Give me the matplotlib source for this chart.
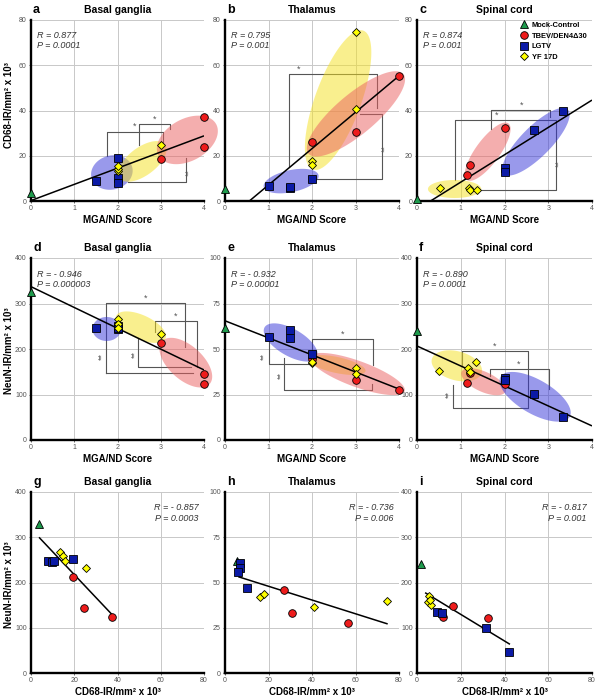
import numpy as np
import matplotlib.pyplot as plt
from matplotlib.patches import Polygon
from matplotlib.lines import Line2D

plt.rcParams['font.family'] = ['Liberation Sans', 'DejaVu Sans']

# ---------------- data ----------------
# each group: (x values, y values)
# row 1: CD68 vs MGA/ND score
a_mock = ([0], [3.5])
a_tbev = ([3, 4, 4], [18.7, 37, 24])
a_lgtv = ([1.5, 2, 2, 2], [8.8, 19.2, 10.3, 7.8])
a_yf = ([2, 2, 2, 3], [13.3, 14.3, 15.5, 24.6])
a_fit = ([0, 4], [0.2, 28.8])

b_mock = ([0], [5.3])
b_tbev = ([2, 3, 4], [26.2, 30.6, 55.4])
b_lgtv = ([1, 1.5, 1.5, 2], [6.5, 5.8, 6.2, 9.6])
b_yf = ([2, 2, 3, 3], [17.7, 15.9, 40.5, 74.6])
b_fit = ([0.56, 4], [0, 55.3])

c_mock = ([0], [1])
c_tbev = ([1.15, 1.2, 2], [11.5, 15.9, 32.3])
c_lgtv = ([2, 2, 2.68, 3.34], [14.7, 12.7, 31.4, 39.8])
c_yf = ([0.53, 1.19, 1.2, 1.36], [5.6, 5.9, 4.7, 5.0])
c_fit = ([0.31, 4], [0, 44.6])

# row 2: NeuN vs MGA/ND score
d_mock = ([0], [326])
d_tbev = ([3, 4, 4], [212.5, 144, 123])
d_lgtv = ([1.5, 2, 2, 2], [245.5, 250, 244, 247])
d_yf = ([2, 2, 2, 3], [265, 255, 245.5, 232])
d_fit = ([0, 4], [337, 154])

e_mock = ([0], [61.4])
e_tbev = ([2, 3, 4], [44.5, 33, 27.5])
e_lgtv = ([1, 1.5, 1.5, 2], [56.8, 60.4, 55.9, 47])
e_yf = ([2, 2, 3, 3], [42.1, 43, 39.7, 36.3])
e_fit = ([0, 4], [65.5, 28])

f_mock = ([0], [240])
f_tbev = ([1.15, 1.2, 2], [124.6, 148, 122])
f_lgtv = ([2, 2, 2.67, 3.33], [135.5, 131, 100.4, 50])
f_yf = ([0.51, 1.17, 1.2, 1.34], [151.6, 159, 150, 172])
f_fit = ([0, 4], [206.6, 31])

# row 3: NeuN vs CD68
g_mock = ([3.7], [329])
g_tbev = ([19.3, 24.4, 37.6], [212.8, 144.3, 123])
g_lgtv = ([8.0, 9.6, 10.8, 19.6], [247.5, 244.6, 247.5, 251])
g_yf = ([13.4, 14.6, 15.7, 25.3], [266.7, 257.9, 247.5, 231.4])
g_fit = ([3.7, 37.6], [299.9, 128.5])

h_mock = ([5.7], [61.9])
h_tbev = ([27.1, 30.9, 56.7], [45.7, 33.3, 27.8])
h_lgtv = ([6.9, 6.9, 6.1, 10], [60.6, 57.8, 56, 47.1])
h_yf = ([16.1, 17.9, 40.8, 74.3], [42.2, 43.5, 36.3, 39.9])
h_fit = ([6.1, 74.8], [53.2, 27.1])

i_mock = ([1.8], [240.9])
i_tbev = ([12.0, 16.6, 32.6], [124.5, 148.8, 122.2])
i_lgtv = ([9.0, 11.3, 31.4, 42.2], [135.6, 132, 100, 47])
i_yf = ([5.6, 5.0, 6.5, 5.9], [171, 158, 150, 162])
i_fit = ([3.7, 42.5], [177.5, 63.4])

letters = ['a', 'b', 'c', 'd', 'e', 'f', 'g', 'h', 'i']
titles = ['Basal ganglia', 'Thalamus', 'Spinal cord'] * 3
r_vals = ['0.877', '0.795', '0.874', '- 0.946', '- 0.932', '- 0.890',
          '- 0.857', '- 0.736', '- 0.817']
p_vals = ['0.0001', '0.001', '0.001', '0.000003', '0.00001', '0.0001',
          '0.0003', '0.006', '0.001']
group_names = ['Mock-Control', 'TBEV/DEN4\u039430', 'LGTV', 'YF 17D']

panels = [
    (a_mock, a_tbev, a_lgtv, a_yf, a_fit),
    (b_mock, b_tbev, b_lgtv, b_yf, b_fit),
    (c_mock, c_tbev, c_lgtv, c_yf, c_fit),
    (d_mock, d_tbev, d_lgtv, d_yf, d_fit),
    (e_mock, e_tbev, e_lgtv, e_yf, e_fit),
    (f_mock, f_tbev, f_lgtv, f_yf, f_fit),
    (g_mock, g_tbev, g_lgtv, g_yf, g_fit),
    (h_mock, h_tbev, h_lgtv, h_yf, h_fit),
    (i_mock, i_tbev, i_lgtv, i_yf, i_fit),
]

# shaded group ellipses: (end1, end2, short axis in px, colour key)
blobs = {
    'a': [((1.40, 10.2), (2.34, 15.0), 34, 'b'),
          ((2.05, 10), (3.1, 25), 28, 'y'),
          ((2.95, 20), (4.28, 34), 42, 'r')],
    'b': [((2.02, 13.9), (3.18, 75.3), 46, 'y'),
          ((1.92, 20.9), (4.1, 56.1), 40, 'r'),
          ((0.89, 6.2), (2.15, 11.4), 22, 'b')],
    'c': [((0.25, 5.3), (1.47, 5.3), 18, 'y'),
          ((1.14, 9.3), (2.09, 34.3), 24, 'r'),
          ((1.99, 12), (3.45, 40.4), 30, 'b')],
    'd': [((1.42, 244), (2.08, 244), 24, 'b'),
          ((1.97, 273), (3.11, 223), 24, 'y'),
          ((3.03, 217), (4.13, 123), 34, 'r')],
    'e': [((0.91, 61.9), (2.11, 45.3), 27, 'b'),
          ((1.91, 44.6), (3.23, 37.8), 16, 'y'),
          ((1.96, 45.7), (4.13, 26.8), 26, 'r')],
    'f': [((0.34, 178), (1.48, 148), 29, 'y'),
          ((1.02, 150), (2.02, 106), 20, 'r'),
          ((1.91, 139), (3.49, 51), 34, 'b')],
}

# significance brackets (polylines) and their star labels
brackets = {
    'a': [[(1.75, 20), (1.75, 30.6), (3.05, 30.6), (3.05, 26)],
          [(2.5, 24.7), (2.5, 33.9), (3.21, 33.9), (3.21, 32)],
          [(2.25, 8.5), (3.58, 8.5), (3.58, 19)]],
    'b': [[(1.48, 15.5), (1.48, 56), (3.49, 56), (3.49, 41)],
          [(2.1, 9.7), (3.6, 9.7), (3.6, 38.5), (3.1, 38.5)]],
    'c': [[(0.87, 9.3), (0.87, 35.8), (3.18, 35.8), (3.18, 5), (1.36, 5)],
          [(1.68, 32), (1.68, 40.2), (3.03, 40.2), (3.03, 37)]],
    'd': [[(1.73, 146.5), (1.73, 300.4), (3.57, 300.4), (3.57, 205)],
          [(1.73, 146.5), (3.75, 146.5)],
          [(2.86, 238), (2.86, 261.5), (3.83, 261.5), (3.83, 160)],
          [(2.48, 224), (2.48, 160), (3.7, 160)]],
    'e': [[(1.0, 54), (1.0, 41.6), (2.0, 41.6)],
          [(1.36, 45), (1.36, 27.5), (3.37, 27.5), (3.37, 31)],
          [(2.0, 48), (2.0, 55.3), (3.41, 55.3), (3.41, 41)]],
    'f': [[(1.02, 162), (1.02, 195.6), (2.54, 195.6), (2.54, 69.7),
           (0.83, 69.7), (0.83, 120)],
          [(1.67, 140), (1.67, 155.3), (3.02, 155.3), (3.02, 113)]],
}
stars = {
    'a': [('*', 2.4, 30.6, 0), ('*', 2.86, 33.9, 0), ('**', 3.66, 12.5, 90)],
    'b': [('*', 1.7, 56, 0), ('**', 3.68, 23, 90)],
    'c': [('*', 1.81, 35.8, 0), ('*', 2.38, 40.2, 0), ('**', 3.25, 16.4, 90)],
    'd': [('*', 2.65, 300.4, 0), ('**', 1.64, 183, 90),
          ('*', 3.35, 261.5, 0), ('**', 2.40, 189, 90)],
    'e': [('**', 0.9, 45.8, 90), ('**', 1.28, 35.7, 90), ('*', 2.7, 55.3, 0)],
    'f': [('*', 1.78, 195.6, 0), ('*', 2.33, 155.3, 0), ('**', 0.74, 99, 90)],
}

# ---------------- styling ----------------
marker_style = [
    dict(marker='^', mfc='#1e9a4c', ms=5.5),
    dict(marker='o', mfc='#ee1c1c', ms=5.5),
    dict(marker='s', mfc='#0b1aa6', ms=5.2),
    dict(marker='D', mfc='#ffff00', ms=4.3),
]
blob_colors = {'b': '#3434d8', 'y': '#f5e11e', 'r': '#eb5f5f'}

ylims = [80, 80, 80, 400, 100, 400, 400, 100, 400]
yticks = [np.arange(0, 81, 20)] * 3 + [np.arange(0, 401, 100), np.arange(0, 101, 25),
                                        np.arange(0, 401, 100)] + \
         [np.arange(0, 401, 100), np.arange(0, 101, 25), np.arange(0, 401, 100)]

col_left = [31, 225, 417]
col_w = [173, 174, 175]
row_top = [20, 258, 492]
row_h = [181, 182, 181]
W, H = 601, 700

fig = plt.figure(figsize=(W / 100, H / 100), dpi=100)


def blob(ax, p1, p2, w, color):
    d1, d2 = ax.transData.transform([p1, p2])
    c = (d1 + d2) / 2
    v = (d2 - d1) / 2
    a = np.hypot(*v)
    u = v / a
    n = np.array([-u[1], u[0]])
    t = np.linspace(0, 2 * np.pi, 150)
    pts = c + np.outer(np.cos(t) * a, u) + np.outer(np.sin(t) * w / 2, n)
    pts = ax.transData.inverted().transform(pts)
    ax.add_patch(Polygon(pts, closed=True, fc=color, ec='none', alpha=0.5,
                         zorder=2, clip_on=False))


for k in range(9):
    r, c = divmod(k, 3)
    rect = [col_left[c] / W, 1 - (row_top[r] + row_h[r]) / H, col_w[c] / W, row_h[r] / H]
    ax = fig.add_axes(rect)
    xmax = 80 if r == 2 else 4
    ax.set_xlim(0, xmax)
    ax.set_ylim(0, ylims[k])
    ax.set_xticks(np.arange(0, 81, 20) if r == 2 else np.arange(0, 5, 1))
    ax.set_yticks(yticks[k])
    ax.grid(True, color='#c8c8c8', lw=0.7, zorder=0)
    ax.set_axisbelow(True)
    for s in ['top', 'right']:
        ax.spines[s].set_visible(False)
    for s in ['left', 'bottom']:
        ax.spines[s].set_linewidth(1.7)
        ax.spines[s].set_zorder(3)
    ax.tick_params(labelsize=5, colors='#555555', length=1.5, width=0.6, pad=1.5)

    letter = letters[k]
    for p1, p2, w, ck in blobs.get(letter, []):
        blob(ax, p1, p2, w, blob_colors[ck])
    for line in brackets.get(letter, []):
        xs, ys = zip(*line)
        ax.plot(xs, ys, color='#555555', lw=0.8, zorder=1.5)
    for s, sx, sy, rot in stars.get(letter, []):
        if rot == 0:
            ax.annotate(s, (sx, sy), xytext=(0, 0.5), textcoords='offset points',
                        ha='center', va='bottom', fontsize=6.5, color='#555555')
        else:
            ax.text(sx, sy, s, rotation=90, ha='center', va='center',
                    fontsize=6.5, color='#555555')

    mock, tbev, lgtv, yf, fit = panels[k]
    ax.plot(fit[0], fit[1], color='black', lw=1.1, zorder=3, solid_capstyle='butt')
    for grp, st in zip([mock, tbev, lgtv, yf], marker_style):
        ax.plot(grp[0], grp[1], ls='none', mec='black', mew=0.6, zorder=4,
                clip_on=False, **st)

    # annotations
    if r < 2:
        ax.text(0.035, 0.912, 'R = ' + r_vals[k], transform=ax.transAxes, fontsize=6.5,
                style='italic', color='#333333', va='center')
        ax.text(0.035, 0.857, 'P = ' + p_vals[k], transform=ax.transAxes, fontsize=6.5,
                style='italic', color='#333333', va='center')
    else:
        ax.text(0.97, 0.913, 'R = ' + r_vals[k], transform=ax.transAxes, fontsize=6.5,
                style='italic', color='#333333', va='center', ha='right')
        ax.text(0.97, 0.855, 'P = ' + p_vals[k], transform=ax.transAxes, fontsize=6.5,
                style='italic', color='#333333', va='center', ha='right')

    ax.text(0.012, 1.055, letter, transform=ax.transAxes, fontsize=9,
            fontweight='bold', va='center', ha='left')
    ax.text(0.5, 1.055, titles[k], transform=ax.transAxes, fontsize=7.5,
            fontweight='bold', va='center', ha='center')
    xlabel = 'CD68-IR/mm\u00b2 x 10\u00b3' if r == 2 else 'MGA/ND Score'
    ax.text(0.5, -0.105, xlabel, transform=ax.transAxes, fontsize=7,
            fontweight='bold', va='center', ha='center')
    if c == 0:
        ylabel = 'CD68-IR/mm\u00b2 x 10\u00b3' if r == 0 else 'NeuN-IR/mm\u00b2 x 10\u00b3'
        ax.text(-0.125, 0.53 if r == 0 else 0.49, ylabel, transform=ax.transAxes,
                fontsize=7, fontweight='bold', va='center', ha='center', rotation=90)

    if k == 2:
        handles = [Line2D([], [], ls='none', mec='black', mew=0.6, **st)
                   for st in marker_style]
        ax.legend(handles, group_names, loc='upper left', bbox_to_anchor=(0.56, 1.02),
                  frameon=False, handlelength=1.0, handletextpad=0.5,
                  labelspacing=0.45, borderpad=0.2,
                  prop=dict(size=5.4, weight='bold'))

fig.savefig('out.png', dpi=100)
